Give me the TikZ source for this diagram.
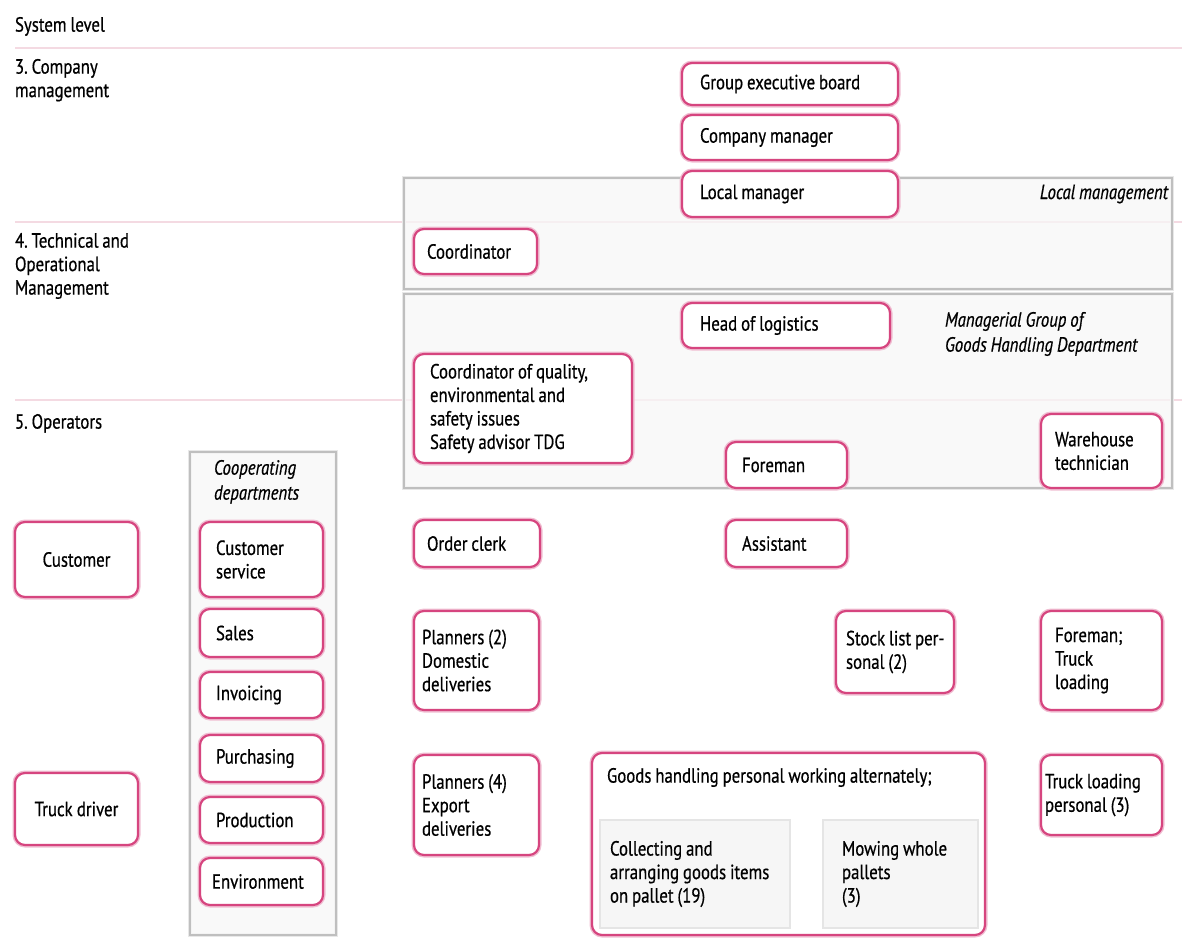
\documentclass[tikz,border=0pt]{standalone}
\usepackage{fontspec}
\setmainfont{PT Sans}[FakeStretch=0.82, FakeBold=0.6]
\definecolor{pinkc}{RGB}{214,69,127}
\definecolor{pinkglow}{RGB}{240,190,210}
\definecolor{levline}{RGB}{244,218,226}
\newcommand\bx[8]{%
  \pgfmathsetmacro\bxW{#4-#2}\pgfmathsetmacro\bxH{#5-#3}\pgfmathsetmacro\bxT{#4-#2-2*#6}%
  \node[#7, minimum width=\bxW pt, minimum height=\bxH pt, text width=\bxT pt, inner xsep=#6pt, anchor=north west] (#1) at (#2,#3) {#8};}
\begin{document}
\begin{tikzpicture}[x=1pt,y=-1pt,
  every node/.style={font=\fontsize{20.5}{23.5}\selectfont, inner ysep=2pt, outer sep=0pt,
     execute at begin node={\spaceskip=0.19em plus 0.05em\relax\xspaceskip=0.19em\relax}},
  pbox/.style={draw=pinkc, line width=2.2pt, rounded corners=10pt, fill=white,
     preaction={draw=pinkglow, line width=5pt}, align=left},
  cbox/.style={pbox, align=center},
  band/.style={draw=gray!50, line width=1.5pt, fill=gray!6, fill opacity=0.75,
     preaction={draw=gray!18, line width=4pt}},
  subbox/.style={draw=gray!20, line width=1.5pt, fill=gray!7, align=left},
  lvl/.style={anchor=north west, align=left, inner sep=0pt},
  note/.style={font=\fontsize{20.5}{25}\selectfont\itshape, align=left, inner sep=0pt}]
\useasboundingbox (0,0) rectangle (1182,943);
% level lines
\coordinate (l1a) at (15,48);  \coordinate (l1b) at (1182,48);
\coordinate (l2a) at (15,222); \coordinate (l2b) at (1182,222);
\coordinate (l3a) at (15,400); \coordinate (l3b) at (1182,400);
\draw[levline, line width=2pt] (l1a) -- (l1b);
\draw[levline, line width=2pt] (l2a) -- (l2b);
\draw[levline, line width=2pt] (l3a) -- (l3b);
% level labels
\node[lvl] (sys) at (15,17) {System level};
\node[lvl] (lv3) at (15,59) {3. Company\\management};
\node[lvl] (lv4) at (15,233) {4. Technical and\\Operational\\Management};
\node[lvl] (lv5) at (15,414) {5. Operators};
% grey bands
\node[band, minimum width=768pt, minimum height=111pt, anchor=north west] (bandlm) at (404,178) {};
\node[band, minimum width=768pt, minimum height=194pt, anchor=north west] (bandmg) at (404,294) {};
\node[band, minimum width=146pt, minimum height=483pt, anchor=north west] (bandcd) at (190,452) {};
\node[note, anchor=east] (lmtxt) at (1168,194) {Local management};
\node[note, anchor=north west] (mgtxt) at (945,312) {Managerial Group of\\Goods Handling Department};
\node[note, anchor=north west] (cdtxt) at (214,460) {Cooperating\\departments};
% company management
\bx{geb}{682}{63}{898}{105}{18}{pbox}{Group executive board}
\bx{cm}{682}{115}{898}{160}{18}{pbox}{Company manager}
\bx{lm}{682}{171}{898}{217}{18}{pbox}{Local manager}
% technical and operational
\bx{coord}{414}{229}{537}{274}{13}{pbox}{Coordinator}
\bx{hol}{682}{303}{890}{348}{18}{pbox}{Head of logistics}
\bx{cq}{414}{354}{632}{463}{16}{pbox}{Coordinator of quality,\\environmental and\\safety issues\\Safety advisor TDG}
\bx{fore}{726}{442}{847}{488}{16}{pbox}{Foreman}
\bx{wt}{1041}{414}{1162}{488}{14}{pbox}{Warehouse\\technician}
% operators
\bx{oc}{414}{520}{540}{567}{13}{pbox}{Order clerk}
\bx{asst}{726}{520}{847}{567}{16}{pbox}{Assistant}
\bx{cust}{15}{522}{138}{597}{6}{cbox}{Customer}
\bx{td}{15}{773}{138}{845}{6}{cbox}{Truck driver}
\bx{cs}{200}{522}{323}{597}{16}{pbox}{Customer\\service}
\bx{sales}{200}{609}{323}{657}{16}{pbox}{Sales}
\bx{inv}{200}{672}{323}{718}{16}{pbox}{Invoicing}
\bx{pur}{200}{735}{323}{782}{16}{pbox}{Purchasing}
\bx{prod}{200}{797}{323}{843}{16}{pbox}{Production}
\bx{env}{200}{858}{323}{905}{12}{pbox}{Environment}
\bx{p2}{414}{611}{539}{710}{8}{pbox}{Planners (2)\\Domestic\\deliveries}
\bx{sl}{836}{611}{954}{693}{4}{pbox}{\hspace*{6pt}Stock list per-\\\hspace*{6pt}sonal (2)}
\bx{ftl}{1041}{611}{1162}{710}{14}{pbox}{Foreman;\\Truck\\loading}
\bx{p4}{414}{755}{539}{855}{8}{pbox}{Planners (4)\\Export\\deliveries}
\bx{tlp}{1041}{755}{1162}{835}{4}{pbox}{Truck loading\\personal (3)}
% goods handling
\bx{gh}{592}{753}{985}{935}{14}{pbox}{}
\node[anchor=north west, inner sep=0pt] (ghtxt) at (607,768) {Goods handling personal working alternately;};
\bx{col}{600}{820}{790}{928}{10}{subbox}{Collecting and\\arranging goods items\\on pallet (19)}
\bx{mow}{823}{820}{978}{928}{19}{subbox}{Mowing whole\\pallets\\(3)}
\end{tikzpicture}
\end{document}
